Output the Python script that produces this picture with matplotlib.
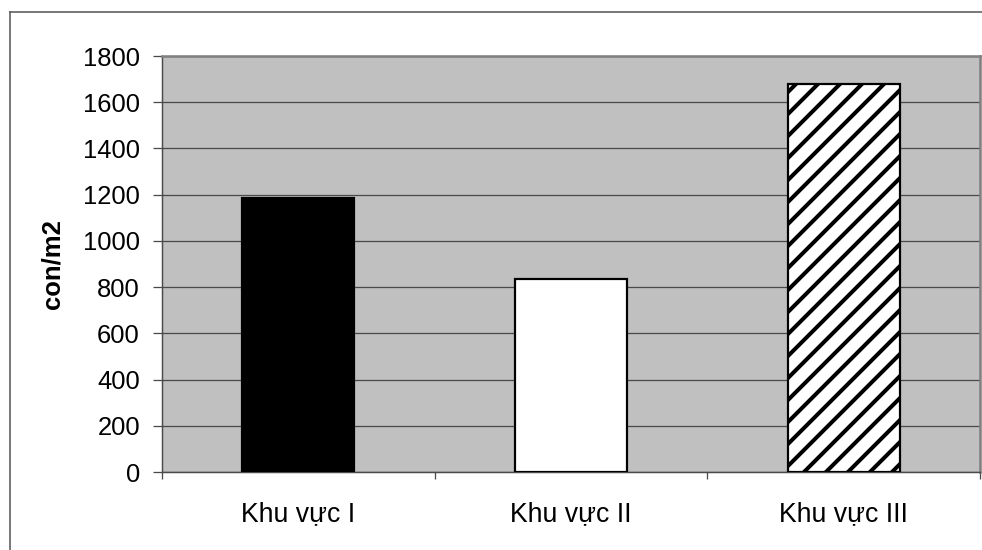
import matplotlib
matplotlib.use("Agg")
import matplotlib.pyplot as plt
from matplotlib.lines import Line2D
from matplotlib.ticker import FixedLocator

categories = ["Khu vực I", "Khu vực II", "Khu vực III"]
values = [1185, 835, 1680]
y_ticks = [0, 200, 400, 600, 800, 1000, 1200, 1400, 1600, 1800]
y_label = "con/m2"

DPI = 132
W, H = 982, 550

plt.rcParams["font.family"] = ["Liberation Sans", "DejaVu Sans"]
plt.rcParams["hatch.linewidth"] = 2.2
plt.rcParams["hatch.color"] = "black"

fig = plt.figure(figsize=(W / DPI, H / DPI), dpi=DPI)
fig.patch.set_facecolor("white")

# outer chart frame (left and top edges visible)
frame_color = "#606060"
fig.add_artist(Line2D([10 / W, 10 / W], [0, 1 - 12 / H], transform=fig.transFigure,
                      color=frame_color, lw=0.9))
fig.add_artist(Line2D([10 / W, 1], [1 - 12 / H, 1 - 12 / H], transform=fig.transFigure,
                      color=frame_color, lw=0.9))

left, right = 162 / W, 980 / W
bottom, top = 1 - 472 / H, 1 - 56 / H
ax = fig.add_axes([left, bottom, right - left, top - bottom])
ax.set_facecolor("#c0c0c0")

x = list(range(len(categories)))
fills = ["black", "white", "white"]
hatches = [None, None, "//"]
for xi, v, fc, ht in zip(x, values, fills, hatches):
    ax.bar(xi, v, width=0.41, color=fc, edgecolor="black", linewidth=1.2,
           hatch=ht, zorder=3)

ax.set_xlim(-0.5, len(categories) - 0.5)
ax.set_ylim(0, 1800)

ax.set_yticks(y_ticks)
ax.set_yticklabels([str(t) for t in y_ticks], fontsize=14)
ax.yaxis.grid(True, color="#4a4a4a", linewidth=0.7, zorder=1)
ax.set_axisbelow(True)

ax.set_xticks(x)
ax.set_xticklabels(categories, fontsize=14.5)
ax.tick_params(axis="x", which="major", length=0, pad=16)
ax.xaxis.set_minor_locator(FixedLocator([i - 0.5 for i in range(len(categories) + 1)]))
ax.tick_params(axis="x", which="minor", length=4, width=0.7, color="#4a4a4a", direction="out")
ax.tick_params(axis="y", length=5, width=0.7, color="#4a4a4a", pad=7)

ax.set_ylabel(y_label, fontsize=14, fontweight="bold", labelpad=10)

for side in ("left", "bottom"):
    ax.spines[side].set_color("#4a4a4a")
    ax.spines[side].set_linewidth(0.8)
for side in ("top", "right"):
    ax.spines[side].set_color("#808080")
    ax.spines[side].set_linewidth(1.4)

fig.savefig("out.png", dpi=DPI)
